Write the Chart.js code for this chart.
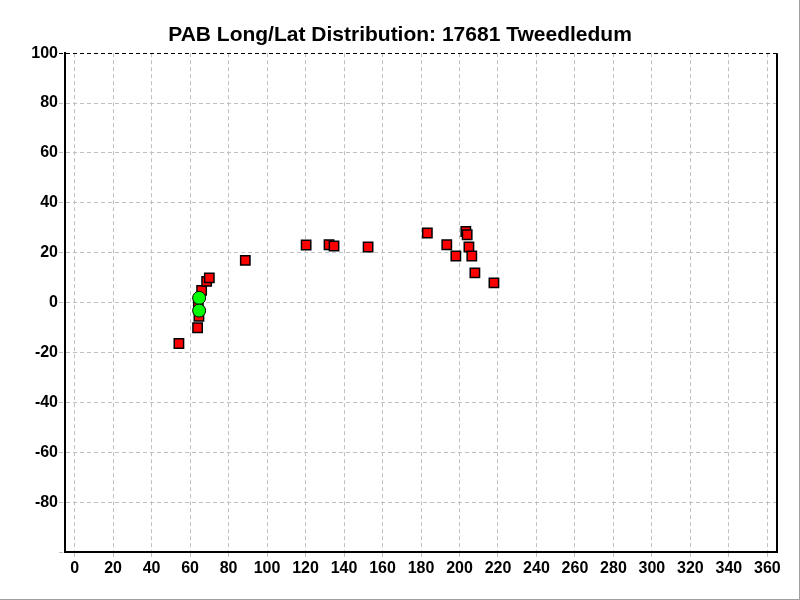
<!DOCTYPE html>
<html>
<head>
<meta charset="utf-8">
<script src="https://cdn.jsdelivr.net/npm/chart.js@4"></script>
<style>
html,body{margin:0;padding:0;background:#fff;}
#wrap{position:relative;width:800px;height:600px;}
#frame{position:absolute;left:0;top:0;width:799px;height:599px;border-right:1px solid #a0a0a0;border-bottom:1px solid #a0a0a0;pointer-events:none;}
</style>
</head>
<body>
<div id="wrap"><canvas id="c" width="800" height="600"></canvas><div id="frame"></div></div>
<script>
const titleText = 'PAB Long/Lat Distribution: 17681 Tweedledum';
const redLong = [54.2, 63.9, 64.6, 64.3, 66.0, 68.6, 70.0, 88.7, 120.3, 132.2, 134.8, 152.5, 183.3, 193.4, 198.1, 203.3, 204.0, 204.9, 206.4, 208.0, 217.9];
const redLat  = [-16.4, -10.1, -5.5, -1.0, 4.9, 8.5, 9.9, 16.9, 23.1, 23.2, 22.7, 22.3, 27.9, 23.2, 18.7, 28.5, 27.2, 22.3, 18.7, 11.9, 7.9];
const greenLong = [64.7, 64.7];
const greenLat  = [1.9, -3.2];
const xTicks = [0,20,40,60,80,100,120,140,160,180,200,220,240,260,280,300,320,340,360];
const yTicks = [-100,-80,-60,-40,-20,0,20,40,60,80,100];
const xMin = -5, xMax = 365, yMin = -100, yMax = 100;

const font = {family: '"Liberation Sans", Arial, sans-serif', size: 16, weight: 'bold'};
const gridCol = ctx => (ctx.tick && ctx.tick.value === 100) ? '#000000' : '#c0c0c0';

new Chart(document.getElementById('c'), {
  type: 'scatter',
  data: {
    datasets: [
      {
        data: greenLong.map((x,i)=>({x:x, y:greenLat[i]})),
        pointStyle: 'circle', pointRadius: 6.5, backgroundColor: '#00ff00',
        borderColor: '#000000', borderWidth: 1
      },
      {
        data: redLong.map((x,i)=>({x:x, y:redLat[i]})),
        pointStyle: 'rect', pointRadius: 6.6, backgroundColor: '#ff0000',
        borderColor: '#000000', borderWidth: 1.5
      }
    ]
  },
  options: {
    responsive: false,
    animation: false,
    layout: {padding: 0},
    plugins: {
      legend: {display: false},
      tooltip: {enabled: false},
      title: {
        display: true, text: titleText, color: '#000',
        font: {family: '"Liberation Sans", Arial, sans-serif', size: 21, weight: 'bold', lineHeight: 1.2},
        padding: {top: 23, bottom: 5}
      }
    },
    scales: {
      x: {
        type: 'linear', min: xMin, max: xMax,
        afterBuildTicks: s => { s.ticks = xTicks.map(v=>({value:v})); },
        afterFit: s => { s.height = 48; s.paddingRight = 0; s.paddingLeft = 0; },
        ticks: {color: '#000', font: font, padding: 1, maxRotation: 0, autoSkip: false},
        grid: {color: '#c0c0c0', tickColor: '#c0c0c0', lineWidth: 1, tickLength: 6, tickBorderDash: [4,3]},
        border: {display: true, color: '#000', width: 2, dash: [4,3]}
      },
      y: {
        type: 'linear', min: yMin, max: yMax,
        afterBuildTicks: s => { s.ticks = yTicks.map(v=>({value:v})); },
        afterFit: s => { s.width = 65; },
        ticks: {color: '#000', font: font, padding: 1, autoSkip: false,
          callback: v => v === -100 ? '' : String(v)},
        grid: {color: gridCol, tickColor: gridCol, lineWidth: 1, tickLength: 6, tickBorderDash: [4,3]},
        border: {display: true, color: '#000', width: 2, dash: [4,3]}
      },
      yRight: {
        type: 'linear', position: 'right', display: true, min: yMin, max: yMax,
        afterFit: s => { s.width = 23; s.paddingTop = 0; s.paddingBottom = 0; },
        ticks: {display: false},
        grid: {display: false, drawTicks: false},
        border: {display: false}
      }
    }
  },
  plugins: [{
    id: 'rightBorder',
    afterDraw(chart) {
      const a = chart.chartArea, ctx = chart.ctx;
      ctx.save();
      ctx.strokeStyle = '#000'; ctx.lineWidth = 2;
      ctx.beginPath(); ctx.moveTo(a.right, a.top); ctx.lineTo(a.right, a.bottom); ctx.stroke();
      ctx.restore();
    }
  }]
});
</script>
</body>
</html>
